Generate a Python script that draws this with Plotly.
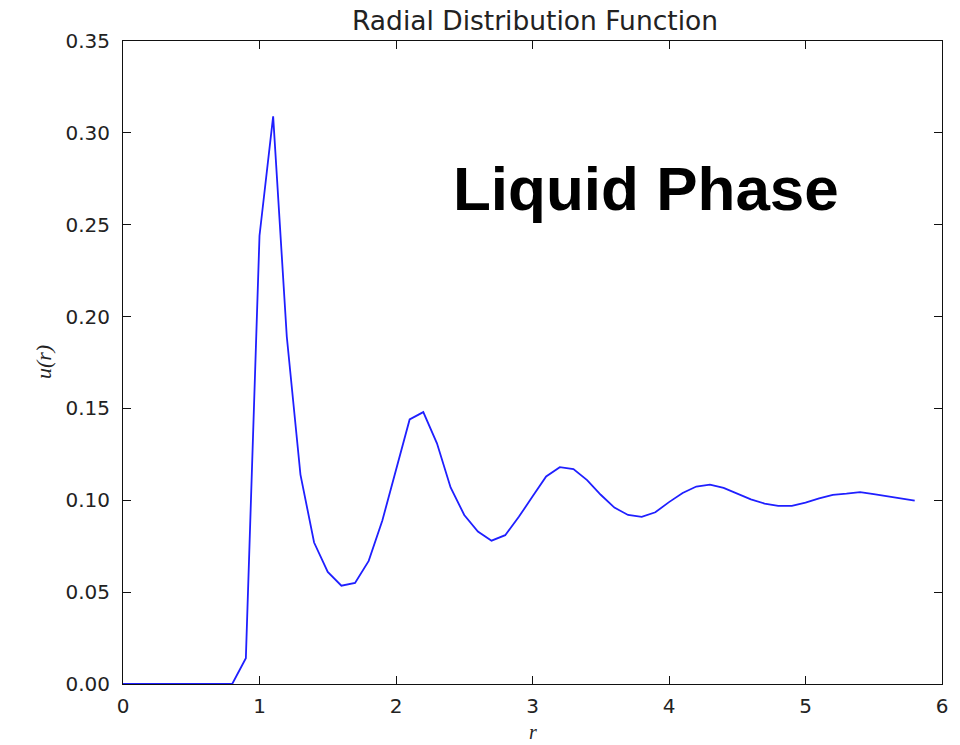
import plotly.graph_objects as go

# Data
r_values = [0.0, 0.1, 0.2, 0.3, 0.4, 0.5, 0.6, 0.7, 0.8, 0.9,
            1.0, 1.1, 1.2, 1.3, 1.4, 1.5, 1.6, 1.7, 1.8, 1.9,
            2.0, 2.1, 2.2, 2.3, 2.4, 2.5, 2.6, 2.7, 2.8, 2.9,
            3.0, 3.1, 3.2, 3.3, 3.4, 3.5, 3.6, 3.7, 3.8, 3.9,
            4.0, 4.1, 4.2, 4.3, 4.4, 4.5, 4.6, 4.7, 4.8, 4.9,
            5.0, 5.1, 5.2, 5.3, 5.4, 5.5, 5.6, 5.7, 5.8]
u_values = [0.0, 0.0, 0.0, 0.0, 0.0, 0.0, 0.0, 0.0, 0.0, 0.014,
            0.244, 0.309, 0.189, 0.114, 0.077, 0.061, 0.0535, 0.055, 0.067, 0.089,
            0.117, 0.144, 0.148, 0.131, 0.107, 0.092, 0.083, 0.078, 0.081, 0.091,
            0.102, 0.113, 0.118, 0.117, 0.111, 0.103, 0.096, 0.092, 0.091, 0.0935,
            0.099, 0.104, 0.1075, 0.1085, 0.1067, 0.1036, 0.1005, 0.0982, 0.097, 0.097,
            0.0987, 0.101, 0.103, 0.1036, 0.1044, 0.1033, 0.1022, 0.101, 0.0998]

x_ticks = [0, 1, 2, 3, 4, 5, 6]
y_ticks = [0.00, 0.05, 0.10, 0.15, 0.20, 0.25, 0.30, 0.35]

title_text = "Radial Distribution Function"
x_label = "r"
y_label = "u(r)"
note_text = "Liquid Phase"

fig = go.Figure()
fig.add_trace(go.Scatter(
    x=r_values, y=u_values, mode="lines",
    line=dict(color="#1f1fff", width=1.8),
    showlegend=False, hoverinfo="skip",
))

axis_common = dict(
    showgrid=False, zeroline=False,
    showline=True, linecolor="#111111", linewidth=1,
    mirror="ticks", ticks="inside", ticklen=8, tickwidth=1, tickcolor="#111111",
    tickfont=dict(family="DejaVu Sans", size=20, color="#222222"),
)

fig.update_xaxes(range=[0, 6], tickmode="array", tickvals=x_ticks,
                 ticktext=[str(v) for v in x_ticks], ticklabelstandoff=4,
                 layer="below traces", **axis_common)
fig.update_yaxes(range=[0, 0.35], tickmode="array", tickvals=y_ticks,
                 ticktext=[f"{v:.2f}" for v in y_ticks], ticklabelstandoff=8,
                 **axis_common)

fig.update_layout(
    width=960, height=745,
    margin=dict(l=123, r=13, t=41, b=61),
    paper_bgcolor="white", plot_bgcolor="white",
    title=dict(text=title_text, x=535 / 960, xanchor="center",
               y=1 - 21 / 745, yanchor="middle", yref="container",
               font=dict(family="DejaVu Sans", size=26.5, color="#222222")),
    annotations=[
        dict(text=note_text, xref="paper", yref="paper", x=0.638, y=0.771,
             xanchor="center", yanchor="middle", showarrow=False,
             font=dict(family="Liberation Sans", size=62, color="black", weight="bold")),
        dict(text=x_label, xref="paper", yref="paper", x=0.5, y=-0.074,
             xanchor="center", yanchor="middle", showarrow=False,
             font=dict(family="Liberation Serif", size=20, color="#222222", style="italic")),
        dict(text=y_label, xref="paper", yref="paper", x=-0.097, y=0.5,
             xanchor="center", yanchor="middle", showarrow=False, textangle=-90,
             font=dict(family="Liberation Serif", size=22, color="#222222", style="italic")),
    ],
)

fig.write_html("out.html")
